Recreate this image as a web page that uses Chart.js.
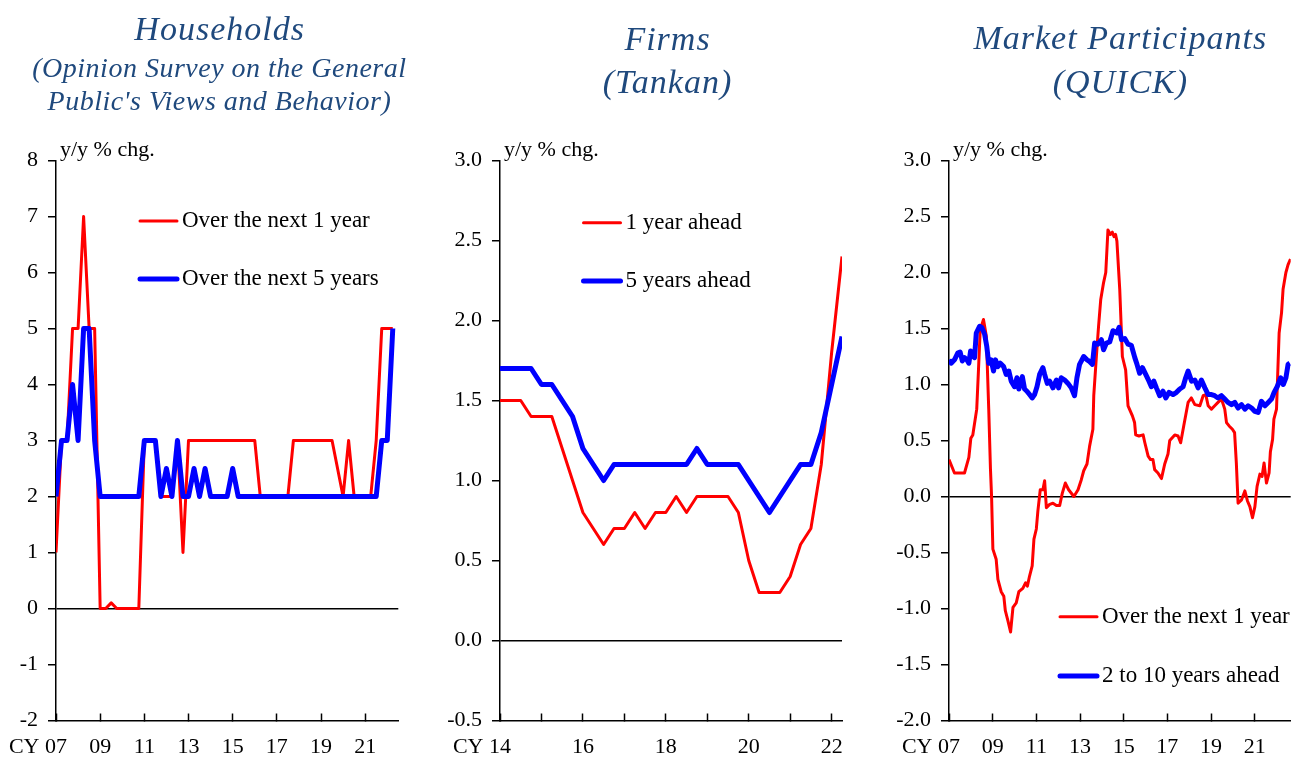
<!DOCTYPE html>
<html>
<head>
<meta charset="utf-8">
<script src="https://cdn.jsdelivr.net/npm/chart.js@4.4.0/dist/chart.umd.min.js"></script>
<style>
  html, body { margin: 0; padding: 0; background: #ffffff; }
  body { width: 1292px; height: 758px; position: relative; overflow: hidden; }
  canvas { position: absolute; top: 0; }
</style>
</head>
<body>
<canvas id="households" width="420" height="758" style="left:0px"></canvas>
<canvas id="firms" width="440" height="758" style="left:430px"></canvas>
<canvas id="market" width="422" height="758" style="left:870px"></canvas>
<script>
// ---- Households: Opinion Survey (quarterly medians, %) ----
const hhQuarters = [
  '2007Q1','2007Q2','2007Q3','2007Q4','2008Q1','2008Q2','2008Q3','2008Q4',
  '2009Q1','2009Q2','2009Q3','2009Q4','2010Q1','2010Q2','2010Q3','2010Q4',
  '2011Q1','2011Q2','2011Q3','2011Q4','2012Q1','2012Q2','2012Q3','2012Q4',
  '2013Q1','2013Q2','2013Q3','2013Q4','2014Q1','2014Q2','2014Q3','2014Q4',
  '2015Q1','2015Q2','2015Q3','2015Q4','2016Q1','2016Q2','2016Q3','2016Q4',
  '2017Q1','2017Q2','2017Q3','2017Q4','2018Q1','2018Q2','2018Q3','2018Q4',
  '2019Q1','2019Q2','2019Q3','2019Q4','2020Q1','2020Q2','2020Q3','2020Q4',
  '2021Q1','2021Q2','2021Q3','2021Q4','2022Q1','2022Q2'
];
const hhNext1Year = [
  1, 3, 3, 5, 5, 7, 5, 5,
  0, 0, 0.1, 0, 0, 0, 0, 0,
  3, 3, 3, 2, 2, 2, 3, 1,
  3, 3, 3, 3, 3, 3, 3, 3,
  3, 3, 3, 3, 3, 2, 2, 2,
  2, 2, 2, 3, 3, 3, 3, 3,
  3, 3, 3, null, 2, 3, 2, 2,
  2, 2, 3, 5, 5, 5
];
const hhNext5Years = [
  2, 3, 3, 4, 3, 5, 5, 3,
  2, 2, 2, 2, 2, 2, 2, 2,
  3, 3, 3, 2, 2.5, 2, 3, 2,
  2, 2.5, 2, 2.5, 2, 2, 2, 2,
  2.5, 2, 2, 2, 2, 2, 2, 2,
  2, 2, 2, 2, 2, 2, 2, 2,
  2, 2, 2, 2, 2, 2, 2, 2,
  2, 2, 2, 3, 3, 5
];
const hhTickYears = [2007, 2009, 2011, 2013, 2015, 2017, 2019, 2021];

// ---- Firms: Tankan (quarterly, %) ----
const tankanQuarters = [
  '2014Q1','2014Q2','2014Q3','2014Q4','2015Q1','2015Q2','2015Q3','2015Q4',
  '2016Q1','2016Q2','2016Q3','2016Q4','2017Q1','2017Q2','2017Q3','2017Q4',
  '2018Q1','2018Q2','2018Q3','2018Q4','2019Q1','2019Q2','2019Q3','2019Q4',
  '2020Q1','2020Q2','2020Q3','2020Q4','2021Q1','2021Q2','2021Q3','2021Q4',
  '2022Q1','2022Q2'
];
const tankan1YearAhead = [
  1.5, 1.5, 1.5, 1.4, 1.4, 1.4, 1.2, 1.0,
  0.8, 0.7, 0.6, 0.7, 0.7, 0.8, 0.7, 0.8,
  0.8, 0.9, 0.8, 0.9, 0.9, 0.9, 0.9, 0.8,
  0.5, 0.3, 0.3, 0.3, 0.4, 0.6, 0.7, 1.1,
  1.8, 2.4
];
const tankan5YearsAhead = [
  1.7, 1.7, 1.7, 1.7, 1.6, 1.6, 1.5, 1.4,
  1.2, 1.1, 1.0, 1.1, 1.1, 1.1, 1.1, 1.1,
  1.1, 1.1, 1.1, 1.2, 1.1, 1.1, 1.1, 1.1,
  1.0, 0.9, 0.8, 0.9, 1.0, 1.1, 1.1, 1.3,
  1.6, 1.9
];
const tankanTickYears = [2014, 2015, 2016, 2017, 2018, 2019, 2020, 2021, 2022];

// ---- Market participants: QUICK survey (%, dates in decimal years) ----
const quick1YearDates = [
  2007.00, 2007.25, 2007.71, 2007.91, 2008.00, 2008.09, 2008.27, 2008.35, 2008.43, 2008.58,
  2008.71, 2008.82, 2008.90, 2008.95, 2009.01, 2009.16, 2009.24, 2009.39, 2009.51, 2009.58,
  2009.70, 2009.82, 2009.93, 2010.08, 2010.20, 2010.38, 2010.51, 2010.59, 2010.69, 2010.81,
  2010.89, 2011.00, 2011.07, 2011.18, 2011.30, 2011.38, 2011.46, 2011.61, 2011.76, 2011.92,
  2012.07, 2012.19, 2012.33, 2012.48, 2012.72, 2012.91, 2013.06, 2013.17, 2013.32, 2013.44,
  2013.59, 2013.63, 2013.75, 2013.85, 2013.95, 2014.08, 2014.18, 2014.28, 2014.39, 2014.48,
  2014.56, 2014.63, 2014.69, 2014.82, 2014.94, 2015.09, 2015.20, 2015.40, 2015.50, 2015.55,
  2015.70, 2015.89, 2015.97, 2016.12, 2016.23, 2016.34, 2016.42, 2016.57, 2016.73, 2016.88,
  2017.03, 2017.11, 2017.34, 2017.49, 2017.61, 2017.75, 2017.95, 2018.10, 2018.26, 2018.49,
  2018.64, 2018.76, 2018.87, 2019.02, 2019.17, 2019.32, 2019.48, 2019.63, 2019.71, 2019.83,
  2019.98, 2020.08, 2020.16, 2020.24, 2020.40, 2020.55, 2020.67, 2020.78, 2020.90, 2021.01,
  2021.11, 2021.24, 2021.34, 2021.43, 2021.54, 2021.66, 2021.72, 2021.82, 2021.88, 2022.00,
  2022.12, 2022.23, 2022.30, 2022.43, 2022.53, 2022.64
];
const quick1YearValues = [
  0.33, 0.21, 0.21, 0.35, 0.52, 0.55, 0.78, 1.13, 1.49, 1.58,
  1.43, 0.78, 0.24, 0.00, -0.47, -0.56, -0.74, -0.85, -0.89, -1.02,
  -1.11, -1.21, -0.99, -0.95, -0.85, -0.82, -0.77, -0.80, -0.71, -0.62,
  -0.38, -0.29, -0.13, 0.06, 0.06, 0.14, -0.10, -0.07, -0.06, -0.08,
  -0.08, 0.03, 0.12, 0.06, 0.00, 0.06, 0.15, 0.23, 0.29, 0.45,
  0.60, 0.90, 1.25, 1.52, 1.76, 1.91, 2.00, 2.38, 2.34, 2.36,
  2.32, 2.34, 2.28, 1.85, 1.25, 1.13, 0.81, 0.72, 0.66, 0.55,
  0.54, 0.55, 0.48, 0.36, 0.33, 0.33, 0.24, 0.21, 0.16, 0.29,
  0.38, 0.50, 0.55, 0.54, 0.48, 0.63, 0.84, 0.88, 0.82, 0.81,
  0.90, 0.91, 0.81, 0.78, 0.81, 0.84, 0.87, 0.78, 0.66, 0.63,
  0.60, 0.57, 0.30, -0.06, -0.03, 0.05, -0.04, -0.09, -0.19, -0.09,
  0.09, 0.20, 0.18, 0.30, 0.12, 0.21, 0.40, 0.51, 0.69, 0.78,
  1.46, 1.64, 1.85, 2.00, 2.07, 2.12
];
const quick2to10YearDates = [
  2007.00, 2007.10, 2007.25, 2007.40, 2007.51, 2007.61, 2007.71, 2007.82, 2007.91, 2007.99,
  2008.09, 2008.17, 2008.25, 2008.40, 2008.50, 2008.63, 2008.73, 2008.82, 2008.93, 2009.04,
  2009.13, 2009.24, 2009.35, 2009.50, 2009.62, 2009.74, 2009.85, 2010.00, 2010.11, 2010.20,
  2010.36, 2010.46, 2010.57, 2010.69, 2010.81, 2010.92, 2011.03, 2011.15, 2011.30, 2011.38,
  2011.50, 2011.61, 2011.76, 2011.92, 2012.02, 2012.14, 2012.30, 2012.45, 2012.60, 2012.75,
  2012.86, 2012.98, 2013.17, 2013.32, 2013.41, 2013.57, 2013.67, 2013.82, 2013.98, 2014.08,
  2014.21, 2014.36, 2014.51, 2014.69, 2014.79, 2014.90, 2015.05, 2015.20, 2015.35, 2015.51,
  2015.61, 2015.73, 2015.86, 2016.01, 2016.16, 2016.27, 2016.38, 2016.50, 2016.65, 2016.80,
  2016.93, 2017.08, 2017.26, 2017.42, 2017.57, 2017.72, 2017.84, 2017.95, 2018.11, 2018.26,
  2018.41, 2018.56, 2018.72, 2018.87, 2019.02, 2019.17, 2019.32, 2019.48, 2019.63, 2019.78,
  2019.94, 2020.09, 2020.24, 2020.40, 2020.55, 2020.70, 2020.86, 2021.01, 2021.16, 2021.31,
  2021.47, 2021.62, 2021.77, 2021.89, 2022.03, 2022.19, 2022.31, 2022.43, 2022.53, 2022.61
];
const quick2to10YearValues = [
  1.22, 1.19, 1.22, 1.28, 1.29, 1.21, 1.24, 1.22, 1.19, 1.30,
  1.25, 1.24, 1.46, 1.52, 1.51, 1.45, 1.34, 1.19, 1.22, 1.12,
  1.22, 1.16, 1.19, 1.16, 1.09, 1.12, 1.03, 0.98, 1.06, 0.96,
  1.07, 0.96, 0.94, 0.91, 0.88, 0.91, 0.98, 1.09, 1.15, 1.09,
  1.01, 1.03, 0.97, 1.04, 0.97, 1.06, 1.04, 1.01, 0.97, 0.90,
  1.06, 1.18, 1.25, 1.22, 1.21, 1.18, 1.37, 1.36, 1.40, 1.31,
  1.37, 1.38, 1.48, 1.46, 1.51, 1.40, 1.41, 1.36, 1.35, 1.24,
  1.18, 1.10, 1.15, 1.09, 1.03, 0.98, 1.03, 0.97, 0.90, 0.94,
  0.88, 0.93, 0.91, 0.93, 0.96, 0.98, 1.06, 1.12, 1.03, 1.04,
  0.97, 1.04, 0.97, 0.91, 0.91, 0.90, 0.88, 0.90, 0.87, 0.84,
  0.82, 0.84, 0.79, 0.82, 0.78, 0.81, 0.79, 0.76, 0.75, 0.85,
  0.81, 0.84, 0.87, 0.93, 0.98, 1.06, 1.00, 1.06, 1.18, 1.19
];
const quickTickYears = [2007, 2009, 2011, 2013, 2015, 2017, 2019, 2021];

// ---- shared styling ----
const FONT = '"Liberation Serif", "Times New Roman", Times, serif';
const TITLE_COLOR = '#1F497D';
const RED = '#FF0000';
const BLUE = '#0000FF';
const TEXT_SIZE = 22;
const X_TICK_LEN = -7;   // negative: tick marks point up into the plot
const X_TICK_PAD = 21;

Chart.defaults.font.family = FONT;
Chart.defaults.color = '#000000';

function quarterToYear(label) {
  const [y, q] = label.split('Q');
  return Number(y) + (Number(q) - 1) / 4;
}
function toPoints(xs, ys) {
  return xs.map((x, i) => ({ x, y: ys[i] }));
}
function yearLabel(v) {
  return String(Math.round(v) % 100).padStart(2, '0');
}

function xAxis(min, max, tickYears, labelEvery) {
  return {
    type: 'linear',
    position: 'bottom',
    min, max,
    afterBuildTicks: (scale) => { scale.ticks = tickYears.map(v => ({ value: v })); },
    afterFit: (scale) => { scale.height = 37.5; },
    grid: {
      display: true, drawOnChartArea: false, drawTicks: true,
      tickLength: X_TICK_LEN, tickColor: '#000000', tickWidth: 1.5
    },
    border: { display: true, color: '#000000', width: 1.5 },
    ticks: {
      autoSkip: false, maxRotation: 0, minRotation: 0,
      padding: X_TICK_PAD, color: '#000000',
      font: { family: FONT, size: TEXT_SIZE },
      callback: (v) => ((Math.round(v) - tickYears[0]) % labelEvery === 0 ? yearLabel(v) : '')
    }
  };
}

function yAxis(min, max, step, width, decimals) {
  return {
    type: 'linear',
    min, max,
    afterFit: (scale) => { scale.width = width; },
    grid: {
      display: true, drawOnChartArea: true, drawTicks: true,
      tickLength: 8, tickColor: '#000000', tickWidth: 1.5, lineWidth: 1.5,
      color: (c) => (c.tick && Math.abs(c.tick.value) < 1e-9 ? '#000000' : 'rgba(0,0,0,0)')
    },
    border: { display: true, color: '#000000', width: 1.5 },
    ticks: {
      stepSize: step, padding: 10, color: '#000000',
      font: { family: FONT, size: TEXT_SIZE },
      callback: (v) => Number(v).toFixed(decimals)
    }
  };
}

// Titles, unit note, legend and the "CY" prefix of the first year label.
function panelDecor(cfg) {
  return {
    id: 'panelDecor',
    afterDraw(chart) {
      const { ctx, chartArea } = chart;
      const hasSpacing = 'letterSpacing' in ctx;
      ctx.save();

      // panel title
      ctx.fillStyle = TITLE_COLOR;
      ctx.textAlign = 'center';
      ctx.textBaseline = 'alphabetic';
      const cx = (chartArea.left + chartArea.right) / 2 + cfg.titleShift;
      cfg.titleLines.forEach((l) => {
        ctx.font = `italic ${l.size}px ${FONT}`;
        if (hasSpacing) ctx.letterSpacing = `${l.spacing}px`;
        ctx.fillText(l.text, cx + l.spacing / 2, l.baseline);
      });
      if (hasSpacing) ctx.letterSpacing = '0px';

      // unit note above the y axis
      ctx.fillStyle = '#000000';
      ctx.textAlign = 'left';
      ctx.font = `${TEXT_SIZE}px ${FONT}`;
      ctx.fillText('y/y % chg.', chartArea.left + 4, 156);

      // legend
      const lx = chartArea.left + cfg.legend.dx;
      chart.data.datasets.forEach((ds, i) => {
        const y = cfg.legend.rows[i];
        ctx.beginPath();
        ctx.strokeStyle = ds.borderColor;
        ctx.lineWidth = ds.borderWidth;
        ctx.lineCap = 'round';
        ctx.moveTo(lx, y);
        ctx.lineTo(lx + 37, y);
        ctx.stroke();
        ctx.fillStyle = '#000000';
        ctx.font = `${cfg.legend.size}px ${FONT}`;
        ctx.textAlign = 'left';
        ctx.textBaseline = 'middle';
        ctx.fillText(ds.label, lx + 42, y);
      });

      // "CY" in front of the first year label
      const xs = chart.scales.x;
      const items = xs.getLabelItems();
      if (items && items.length) {
        const it = items[0];
        const [tx, ty] = it.options.translation;
        ctx.font = `${TEXT_SIZE}px ${FONT}`;
        const w = ctx.measureText(String(it.label)).width;
        ctx.translate(tx, ty);
        ctx.textAlign = 'right';
        ctx.textBaseline = it.options.textBaseline || 'middle';
        ctx.fillStyle = '#000000';
        ctx.fillText('CY ', -w / 2, it.textOffset);
      }
      ctx.restore();
    }
  };
}

const common = {
  responsive: false,
  animation: false,
  events: [],
  elements: {
    point: { radius: 0, hoverRadius: 0 },
    line: { tension: 0, fill: false, borderJoinStyle: 'round', borderCapStyle: 'butt' }
  },
  plugins: { legend: { display: false }, tooltip: { enabled: false } }
};

// ---- Households ----
const hhYears = hhQuarters.map(quarterToYear);
new Chart(document.getElementById('households'), {
  type: 'line',
  data: {
    datasets: [
      { label: 'Over the next 1 year', data: toPoints(hhYears, hhNext1Year),
        borderColor: RED, borderWidth: 3, spanGaps: true, order: 2 },
      { label: 'Over the next 5 years', data: toPoints(hhYears, hhNext5Years),
        borderColor: BLUE, borderWidth: 5, spanGaps: true, order: 1 }
    ]
  },
  options: {
    ...common,
    layout: { padding: { top: 160.5, right: 21.7, left: 0, bottom: 0 } },
    scales: {
      x: xAxis(2007, 2022.5, hhTickYears, 2),
      y: yAxis(-2, 8, 1, 56, 0)
    }
  },
  plugins: [panelDecor({
    titleShift: -8,
    titleLines: [
      { text: 'Households', size: 34, spacing: 1, baseline: 39.5 },
      { text: '(Opinion Survey on the General', size: 28, spacing: 0.5, baseline: 76.7 },
      { text: "Public's Views and Behavior)", size: 28, spacing: 0.5, baseline: 110 }
    ],
    legend: { dx: 84, rows: [221, 279], size: 23 }
  })]
});

// ---- Firms ----
const tankanYears = tankanQuarters.map(quarterToYear);
new Chart(document.getElementById('firms'), {
  type: 'line',
  data: {
    datasets: [
      { label: '1 year ahead', data: toPoints(tankanYears, tankan1YearAhead),
        borderColor: RED, borderWidth: 3, order: 2 },
      { label: '5 years ahead', data: toPoints(tankanYears, tankan5YearsAhead),
        borderColor: BLUE, borderWidth: 5, order: 1 }
    ]
  },
  options: {
    ...common,
    layout: { padding: { top: 160.5, right: 28, left: 0, bottom: 0 } },
    scales: {
      x: xAxis(2014, 2022.25, tankanTickYears, 2),
      y: yAxis(-0.5, 3, 0.5, 70, 1)
    }
  },
  plugins: [panelDecor({
    titleShift: -4,
    titleLines: [
      { text: 'Firms', size: 34, spacing: 1, baseline: 50 },
      { text: '(Tankan)', size: 34, spacing: 1, baseline: 93.3 }
    ],
    legend: { dx: 83.5, rows: [222.7, 281], size: 23 }
  })]
});

// ---- Market participants ----
new Chart(document.getElementById('market'), {
  type: 'line',
  data: {
    datasets: [
      { label: 'Over the next 1 year', data: toPoints(quick1YearDates, quick1YearValues),
        borderColor: RED, borderWidth: 3, order: 2 },
      { label: '2 to 10 years ahead', data: toPoints(quick2to10YearDates, quick2to10YearValues),
        borderColor: BLUE, borderWidth: 5, order: 1 }
    ]
  },
  options: {
    ...common,
    layout: { padding: { top: 160.5, right: 1.3, left: 0, bottom: 0 } },
    scales: {
      x: xAxis(2007, 2022.65, quickTickYears, 2),
      y: yAxis(-2, 3, 0.5, 79, 1)
    }
  },
  plugins: [panelDecor({
    titleShift: 0,
    titleLines: [
      { text: 'Market Participants', size: 34, spacing: 1, baseline: 49.3 },
      { text: '(QUICK)', size: 34, spacing: 1, baseline: 93.3 }
    ],
    legend: { dx: 111, rows: [616.7, 676], size: 23 }
  })]
});
</script>
</body>
</html>
